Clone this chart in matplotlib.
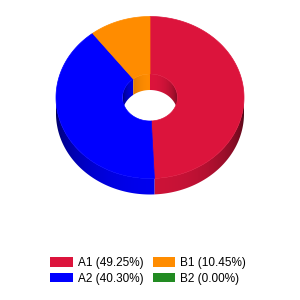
import numpy as np
import matplotlib.pyplot as plt
from matplotlib.patches import Polygon, Patch
from matplotlib.colors import to_rgb

# Data
labels = ["A1", "A2", "B1", "B2"]
values = [49.25, 40.30, 10.45, 0.00]
colors = ["#DC143C", "#0000FF", "#FF8C00", "#228B22"]

# geometry of the 3d donut (pixels)
cx, cy = 150, 97.5
rx, ry = 94, 81
irx, iry = 27.5, 23.5
depth = 16


def pt(r_x, r_y, ang, dy=0):
    # angle in degrees, clockwise from 12 o'clock
    a = np.radians(ang)
    return (cx + r_x * np.sin(a), cy - r_y * np.cos(a) + dy)


def wall(ax, r_x, r_y, a0, a1, c, lo, hi):
    # side band between an arc and the same arc pushed down, gradient in x
    angs = np.linspace(a0, a1, max(int((a1 - a0) * 2), 2) + 1)
    top = [pt(r_x, r_y, a) for a in angs]
    bot = [pt(r_x, r_y, a, depth) for a in angs[::-1]]
    poly = Polygon(top + bot, closed=True, fc="none", ec="none")
    ax.add_patch(poly)
    xs = np.linspace(cx - r_x, cx + r_x, 200)
    f = lo + (hi - lo) * np.sqrt(np.clip(1 - ((xs - cx) / r_x) ** 2, 0, 1))
    img = np.clip(np.outer(f, to_rgb(c)), 0, 1)[None, :, :]
    im = ax.imshow(img, extent=(cx - r_x, cx + r_x, cy + r_y + depth + 2, cy - r_y - 2),
                   aspect="auto", interpolation="bilinear")
    im.set_clip_path(poly)


fig = plt.figure(figsize=(3, 3), dpi=100)
ax = fig.add_axes([0, 0, 1, 1])

total = sum(values)
starts = np.cumsum([0] + values[:-1]) / total * 360
spans = np.array(values) / total * 360

# outer front walls and inner back walls
for s, w, c in zip(starts, spans, colors):
    if w <= 0:
        continue
    a0, a1 = max(s, 90), min(s + w, 270)
    if a1 > a0:
        wall(ax, rx, ry, a0, a1, c, 0.36, 0.93)
    for b0, b1 in [(s, min(s + w, 90)), (max(s, 270), s + w)]:
        if b1 > b0:
            wall(ax, irx, iry, b0, b1, c, 0.45, 1.0)

# top faces
for s, w, c in zip(starts, spans, colors):
    if w <= 0:
        continue
    angs = np.linspace(s, s + w, max(int(w * 2), 2) + 1)
    outer = [pt(rx, ry, a) for a in angs]
    inner = [pt(irx, iry, a) for a in angs[::-1]]
    ax.add_patch(Polygon(outer + inner, closed=True, fc=c, ec=c, lw=0.5))

ax.set_xlim(0, 300)
ax.set_ylim(300, 0)
ax.axis("off")

# legend
handles = [Patch(facecolor=c, edgecolor="none") for c in colors]
leg_labels = ["%s (%.2f%%)" % (l, v) for l, v in zip(labels, values)]
fig.legend(handles, leg_labels, ncol=2, loc="upper left",
           bbox_to_anchor=(0.168, 0.143), frameon=False,
           prop={"family": "Liberation Sans", "size": 8.5},
           handlelength=1.9, handleheight=0.85, handletextpad=0.45,
           columnspacing=0.75, labelspacing=0.3, borderpad=0, borderaxespad=0)

plt.savefig("out.png", dpi=100)
